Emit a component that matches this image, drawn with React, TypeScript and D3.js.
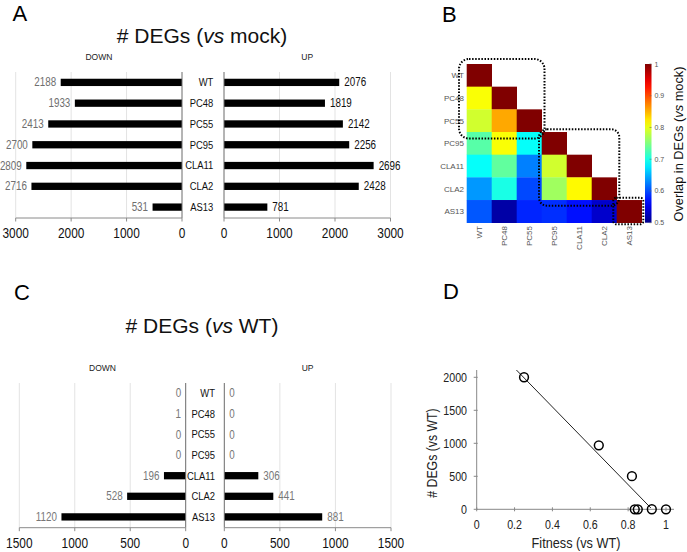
import React from 'react';
import * as d3 from 'd3';

// ---------- data ----------
const strains = ['WT', 'PC48', 'PC55', 'PC95', 'CLA11', 'CLA2', 'AS13'];
const downVsMock = [2188, 1933, 2413, 2700, 2809, 2716, 531];
const upVsMock = [2076, 1819, 2142, 2256, 2696, 2428, 781];
const downVsWT = [0, 1, 0, 0, 196, 528, 1120];
const upVsWT = [0, 0, 0, 0, 306, 441, 881];
const ticksMock = [0, 1000, 2000, 3000];
const ticksWT = [0, 500, 1000, 1500];

// lower triangle of overlap matrix (row i, cols 0..i)
const overlap = [
  [1],
  [0.81, 1],
  [0.79, 0.855, 1],
  [0.73, 0.81, 0.69, 1],
  [0.69, 0.735, 0.625, 0.79, 1],
  [0.637, 0.7, 0.598, 0.766, 0.815, 1],
  [0.605, 0.515, 0.58, 0.585, 0.57, 0.535, 1],
];
const colorTicks = [0.5, 0.6, 0.7, 0.8, 0.9, 1];
const clusterGroups = [
  ['WT', 'PC55'],
  ['PC95', 'CLA2'],
  ['AS13', 'AS13'],
];

const fitness = [1.0, 0.925, 0.851, 0.835, 0.82, 0.645, 0.25];
const degsTotal = [0, 1, 0, 0, 502, 969, 2001];
const fitLineX = [0.21, 0.92];
const fitLineY = [2110, 20];
const fitTicksX = [0, 0.2, 0.4, 0.6, 0.8, 1];
const fitTicksY = [0, 500, 1000, 1500, 2000];

// ---------- styles ----------
const SANS = "'Liberation Sans', Arial, Helvetica, sans-serif";
const NARROW_SCALE = 0.82;
const jetStops = [0, 0.125, 0.375, 0.625, 0.875, 1];
const jetColors = ['#00008a', '#0000ff', '#00ffff', '#ffff00', '#ff0000', '#800000'];
const boxPads = [
  { l: 7.7, r: 2.8, t: 5, b: 6.5, rx: 10 },
  { l: 2.7, r: 2.6, t: 2.7, b: 5.7, rx: 8 },
  { l: 3.4, r: 1.6, t: 2.3, b: 1.6, rx: 3 },
];

// condensed text (emulates a narrow face like Calibri)
function NText(props: { x: number; y: number; size: number; anchor?: string; fill?: string; rotate?: boolean; children: React.ReactNode }) {
  const { x, y, size, anchor = 'start', fill = '#111', rotate = false, children } = props;
  const tr = rotate
    ? `translate(${x},${y}) rotate(-90) scale(${NARROW_SCALE},1)`
    : `translate(${x},${y}) scale(${NARROW_SCALE},1)`;
  return (
    <text transform={tr} textAnchor={anchor as any} fontFamily={SANS} fontSize={size} fill={fill}>{children}</text>
  );
}

type BFProps = {
  title: string;
  titleY: number;
  headerY: number;
  top: number;
  axisY: number;
  downVals: number[];
  upVals: number[];
  ticks: number[];
  down: d3.ScaleLinear<number, number>;
  up: d3.ScaleLinear<number, number>;
  catX: number;
  downColor: string;
  upColor: string;
};

function Butterfly(p: BFProps) {
  const y = d3.scalePoint<string>().domain(strains).range([p.top, p.axisY - 0.5]).padding(0.5);
  const max = d3.max(p.ticks) as number;
  const barH = 7.3;
  return (
    <g>
      <text x={202} y={p.titleY} textAnchor="middle" fontFamily={SANS} fontSize={21} fill="#111">
        # DEGs (<tspan fontStyle="italic">vs</tspan> {p.title})
      </text>
      <text x={p.down(max / 2)} y={p.headerY} textAnchor="middle" fontFamily={SANS} fontSize={8.5} fill="#222">DOWN</text>
      <text x={p.up(max / 2)} y={p.headerY} textAnchor="middle" fontFamily={SANS} fontSize={8.5} fill="#222">UP</text>
      {p.ticks.filter(t => t > 0).map(t => (
        <g key={'g' + t}>
          <line x1={p.down(t)} x2={p.down(t)} y1={p.top} y2={p.axisY} stroke="#e3e3e3" strokeWidth={1} />
          <line x1={p.up(t)} x2={p.up(t)} y1={p.top} y2={p.axisY} stroke="#e3e3e3" strokeWidth={1} />
        </g>
      ))}
      {strains.map((s, i) => {
        const cy = y(s) as number;
        return (
          <g key={s}>
            <rect x={p.down(p.downVals[i])} y={cy - barH / 2} width={p.down(0) - p.down(p.downVals[i])} height={barH} fill="#000" />
            <rect x={p.up(0)} y={cy - barH / 2} width={p.up(p.upVals[i]) - p.up(0)} height={barH} fill="#000" />
            <NText x={p.down(p.downVals[i]) - 4.5} y={cy + 4} size={12} anchor="end" fill={p.downColor}>{p.downVals[i]}</NText>
            <NText x={p.up(p.upVals[i]) + 5} y={cy + 4} size={12} anchor="start" fill={p.upColor}>{p.upVals[i]}</NText>
            <NText x={p.catX} y={cy + 3.8} size={11.5} anchor="end" fill="#111">{s}</NText>
          </g>
        );
      })}
      <line x1={p.down(0)} x2={p.down(0)} y1={p.top} y2={p.axisY} stroke="#6b6b6b" strokeWidth={1} />
      <line x1={p.up(0)} x2={p.up(0)} y1={p.top} y2={p.axisY} stroke="#6b6b6b" strokeWidth={1} />
      <line x1={p.down(max)} x2={p.down(0)} y1={p.axisY} y2={p.axisY} stroke="#8a8a8a" strokeWidth={1} />
      <line x1={p.up(0)} x2={p.up(max)} y1={p.axisY} y2={p.axisY} stroke="#8a8a8a" strokeWidth={1} />
      {p.ticks.map(t => (
        <g key={'t' + t}>
          <line x1={p.down(t)} x2={p.down(t)} y1={p.axisY} y2={p.axisY + 3.5} stroke="#8a8a8a" />
          <line x1={p.up(t)} x2={p.up(t)} y1={p.axisY} y2={p.axisY + 3.5} stroke="#8a8a8a" />
          <NText x={p.down(t)} y={p.axisY + 20} size={14.5} anchor="middle" fill="#111">{t}</NText>
          <NText x={p.up(t)} y={p.axisY + 20} size={14.5} anchor="middle" fill="#111">{t}</NText>
        </g>
      ))}
    </g>
  );
}

function Heatmap() {
  const hx = d3.scaleBand<string>().domain(strains).range([466.7, 641.7]);
  const hy = d3.scaleBand<string>().domain(strains).range([64, 222.7]);
  const color = d3.scaleLinear<string>().domain(jetStops.map(t => 0.5 + t * 0.5)).range(jetColors).interpolate(d3.interpolateRgb).clamp(true);
  const cb = d3.scaleLinear().domain([0.5, 1]).range([222.7, 64]);
  const gradStops = d3.range(0, 1.0001, 0.05);
  const cells: React.ReactNode[] = [];
  overlap.forEach((row, i) => row.forEach((v, j) => {
    cells.push(
      <rect key={i + '-' + j} x={hx(strains[j])} y={hy(strains[i])} width={hx.bandwidth() + 0.3} height={hy.bandwidth() + 0.3} fill={color(v)} />
    );
  }));
  return (
    <g>
      <defs>
        <linearGradient id="jet" x1="0" y1="1" x2="0" y2="0">
          {gradStops.map(t => (
            <stop key={t} offset={t} stopColor={color(0.5 + t * 0.5)} />
          ))}
        </linearGradient>
      </defs>
      {cells}
      {strains.map(s => (
        <text key={'r' + s} x={464} y={(hy(s) as number) + hy.bandwidth() / 2 + 3} textAnchor="end" fontFamily={SANS} fontSize={8} fill="#555">{s}</text>
      ))}
      {strains.map(s => (
        <text key={'c' + s} transform={`translate(${(hx(s) as number) + hx.bandwidth() / 2 + 3},226) rotate(-90)`} textAnchor="end" fontFamily={SANS} fontSize={8} fill="#555">{s}</text>
      ))}
      {clusterGroups.map((g, k) => {
        const pd = boxPads[k];
        const x0 = (hx(g[0]) as number) - pd.l;
        const x1 = (hx(g[1]) as number) + hx.bandwidth() + pd.r;
        const y0 = (hy(g[0]) as number) - pd.t;
        const y1 = (hy(g[1]) as number) + hy.bandwidth() + pd.b;
        return <rect key={'b' + k} x={x0} y={y0} width={x1 - x0} height={y1 - y0} rx={pd.rx} fill="none" stroke="#000" strokeWidth={2} strokeDasharray="1.5,1.6" />;
      })}
      <rect x={645} y={64} width={6.5} height={158.7} fill="url(#jet)" />
      {colorTicks.map(t => (
        <g key={'ct' + t}>
          <line x1={649.5} x2={651.5} y1={cb(t)} y2={cb(t)} stroke="#666" strokeWidth={0.6} />
          <text x={654.5} y={cb(t) + 2.5} fontFamily={SANS} fontSize={7} fill="#555">{t}</text>
        </g>
      ))}
      <text transform="translate(683,144) rotate(-90)" textAnchor="middle" fontFamily={SANS} fontSize={12.8} fill="#111">
        Overlap in DEGs (<tspan fontStyle="italic">vs</tspan> mock)
      </text>
    </g>
  );
}

function Scatter() {
  const x = d3.scaleLinear().domain([0, 1]).range([476.7, 666]);
  const y = d3.scaleLinear().domain([0, 2000]).range([509.3, 377.3]);
  const line = d3.line<number>().x(d => x(fitLineX[d])).y(d => y(fitLineY[d]));
  return (
    <g>
      <line x1={x(0)} x2={674} y1={y(0)} y2={y(0)} stroke="#888" strokeWidth={1} />
      <line x1={x(0)} x2={x(0)} y1={370} y2={y(0)} stroke="#888" strokeWidth={1} />
      {fitTicksX.map(t => (
        <g key={'x' + t}>
          <line x1={x(t)} x2={x(t)} y1={y(0) - 2} y2={y(0) + 2} stroke="#888" />
          <NText x={x(t)} y={529} size={13} anchor="middle" fill="#222">{t}</NText>
        </g>
      ))}
      {fitTicksY.map(t => (
        <g key={'y' + t}>
          <line x1={x(0) - 3} x2={x(0) + 1} y1={y(t)} y2={y(t)} stroke="#888" />
          <NText x={467} y={y(t) + 4.5} size={13} anchor="end" fill="#222">{t}</NText>
        </g>
      ))}
      <path d={line([0, 1]) as string} stroke="#222" strokeWidth={1} fill="none" />
      {fitness.map((f, i) => (
        <circle key={'p' + i} cx={x(f)} cy={y(degsTotal[i])} r={4.4} fill="none" stroke="#000" strokeWidth={1.5} />
      ))}
      <NText x={576} y={548} size={15.5} anchor="middle" fill="#222">Fitness (vs WT)</NText>
      <NText x={437} y={453} size={15} anchor="middle" fill="#222" rotate>{'# DEGs (vs WT)'}</NText>
    </g>
  );
}

export default function App() {
  const downA = d3.scaleLinear().domain([0, 3000]).range([182, 15.7]);
  const upA = d3.scaleLinear().domain([0, 3000]).range([224, 390.5]);
  const downC = d3.scaleLinear().domain([0, 1500]).range([185.7, 19.3]);
  const upC = d3.scaleLinear().domain([0, 1500]).range([224.3, 391]);
  return (
    <svg width={687} height={552} style={{ position: 'absolute', left: 0, top: 0, background: '#fff' }}>
      <rect width={687} height={552} fill="#fff" />
      <text x={12.5} y={21} fontFamily={SANS} fontSize={22} fill="#000">A</text>
      <text x={442} y={21.7} fontFamily={SANS} fontSize={22} fill="#000">B</text>
      <text x={14} y={300} fontFamily={SANS} fontSize={22} fill="#000">C</text>
      <text x={443} y={299} fontFamily={SANS} fontSize={22} fill="#000">D</text>
      <Butterfly title="mock" titleY={43.3} headerY={60} top={72} axisY={218} downVals={downVsMock} upVals={upVsMock}
        ticks={ticksMock} down={downA} up={upA} catX={213.3} downColor="#6e6e6e" upColor="#111" />
      <Butterfly title="WT" titleY={333.3} headerY={371} top={383} axisY={527.7} downVals={downVsWT} upVals={upVsWT}
        ticks={ticksWT} down={downC} up={upC} catX={215} downColor="#777" upColor="#777" />
      <Heatmap />
      <Scatter />
    </svg>
  );
}
